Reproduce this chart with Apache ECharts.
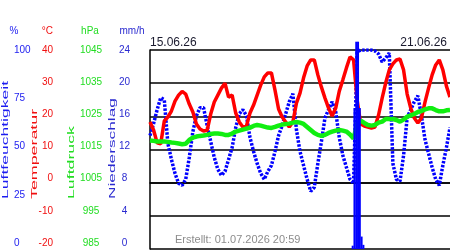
<!DOCTYPE html>
<html>
<head>
<meta charset="utf-8">
<script src="https://cdn.jsdelivr.net/npm/echarts@6/dist/echarts.min.js"></script>
<style>
html, body { margin: 0; padding: 0; background: #fff; }
#chart { width: 450px; height: 250px; }
</style>
</head>
<body>
<div id="chart"></div>
<script>
// Stunden seit 15.06.26 00:00 (alle 2 h)
var hours = [0, 2, 4, 6, 8, 10, 12, 14, 16, 18, 20, 22, 24, 26, 28, 30, 32, 34, 36, 38,
  40, 42, 44, 46, 48, 50, 52, 54, 56, 58, 60, 62, 64, 66, 68, 70, 72, 74, 76, 78,
  80, 82, 84, 86, 88, 90, 92, 94, 96, 98, 100, 102, 104, 106, 108, 110, 112, 114, 116, 118,
  120, 122, 124, 126, 128, 130, 132, 134, 136, 138, 140, 142, 144, 146, 148, 150, 152, 154, 156, 158,
  160, 162, 164, 166, 168];

// Luftfeuchtigkeit %
var humidity = [57, 63, 70, 76, 75, 53, 45, 38, 33, 32, 35, 46, 59, 67, 71, 71, 62, 54, 46, 40,
  37, 39, 45, 51, 61, 68, 70, 67, 56, 49, 43, 38, 35, 39, 42, 49, 57, 62, 68, 74,
  78, 60, 49, 42, 35, 29, 31, 43, 54, 66, 70, 74, 69, 56, 47, 41, 35, 33, 99, 100,
  100, 100, 100, 99.5, 98, 94, 96, 98.5, 43, 35, 34, 47, 66, 70, 74, 77, 67, 55, 48, 41,
  35, 32, 42, 51, 61];

// Temperatur °C
var temperature = [18.3, 15.9, 12.0, 11.7, 18.6, 19.8, 21.6, 24.6, 26.4, 27.5, 26.7, 23.7, 21.3, 17.7, 16.2, 15.6, 15.8, 20.7, 24.3, 26.4,
  28.5, 30.0, 25.8, 26.4, 21.0, 18.3, 16.8, 17.1, 21.0, 23.4, 26.4, 29.4, 31.9, 33.1, 33.1, 27.9, 22.2, 19.8, 18.3, 16.8,
  18.3, 24.0, 27.0, 31.6, 35.2, 37.0, 37.0, 32.5, 28.8, 25.5, 22.5, 20.1, 22.5, 27.6, 31.0, 34.6, 37.9, 37.0, 24.9, 17.7,
  17.1, 16.8, 16.5, 16.8, 20.4, 25.5, 30.1, 34.0, 35.8, 37.0, 37.3, 34.0, 26.7, 22.5, 19.5, 18.0, 19.5, 24.3, 28.5, 32.5,
  35.5, 37.0, 34.0, 29.1, 25.8];

// Luftdruck hPa
var pressure = [1017.7, 1017.6, 1017.4, 1017.4, 1017.4, 1017.3, 1017.1, 1017.0, 1016.8, 1016.6, 1016.7, 1017.9, 1018.6, 1018.9, 1019.1, 1019.2, 1019.4, 1019.7, 1019.8, 1019.8,
  1019.7, 1019.4, 1019.4, 1019.8, 1020.4, 1020.7, 1021.0, 1021.3, 1021.6, 1022.1, 1022.4, 1022.2, 1021.9, 1021.6, 1021.5, 1021.8, 1022.2, 1022.5, 1022.7, 1022.8,
  1023.1, 1023.3, 1023.1, 1022.7, 1021.8, 1020.9, 1020.0, 1019.4, 1019.1, 1019.4, 1020.0, 1020.4, 1020.7, 1020.9, 1020.7, 1020.4, 1019.5, 1018.3, 1022.7, 1023.7,
  1023.0, 1022.4, 1022.2, 1022.4, 1023.1, 1023.4, 1024.2, 1024.2, 1024.2, 1023.9, 1023.4, 1024.0, 1024.9, 1025.3, 1025.7, 1026.3, 1026.6, 1027.1, 1027.4, 1027.4,
  1026.9, 1026.5, 1026.5, 1026.8, 1026.9];

// Niederschlag mm/h (nur Stunden mit Regen)
var rainHours = [113.5, 114.5, 115.5, 116.5, 117.5, 118.5, 119.5];
var rain = [0.4, 17, 25, 25, 17, 1.5, 0.5];

var axisTitles = ['Luftfeuchtigkeit', 'Temperatur', 'Luftdruck', 'Niederschlag'];
var units = ['%', '°C', 'hPa', 'mm/h'];
var dateLabels = ['15.06.26', '21.06.26'];
var createdLabel = 'Erstellt: 01.07.2026 20:59';

var FONT = 'Liberation Sans, Arial, sans-serif';
var BLUE = '#1c1cf0', RED = '#f01010', GREEN = '#22dd22', NAVY = '#2a2ad0';

function pairs(xs, vals) {
  return xs.map(function (x, i) { return [x, vals[i]]; });
}

// Achse nur fuer die Beschriftung links
function labelAxis(min, max, step, color, offset, align) {
  return {
    type: 'value', gridIndex: 1, position: 'left', offset: offset,
    min: min, max: max, interval: step,
    axisLine: { show: false }, axisTick: { show: false }, splitLine: { show: false },
    axisLabel: { color: color, fontSize: 10, fontFamily: FONT, align: align, margin: 0,
      formatter: function (v) { return String(v); } }
  };
}

function title(text, x, color, sx) {
  return {
    type: 'text', x: x, y: 199, rotation: Math.PI / 2, scaleX: sx, scaleY: 1,
    style: { text: text, fill: color, font: '9px ' + FONT, align: 'left', verticalAlign: 'middle' }
  };
}

function unit(text, x, color, align) {
  return {
    type: 'text', x: x, y: 31,
    style: { text: text, fill: color, font: '10px ' + FONT, align: align, verticalAlign: 'middle' }
  };
}

var myChart = echarts.init(document.getElementById('chart'));

myChart.setOption({
  animation: false,
  backgroundColor: '#fff',
  grid: [
    { left: 150, top: 50, right: 0, bottom: 1 },
    { left: 150, top: 50, right: 0, bottom: 7 }
  ],
  xAxis: [
    {
      type: 'value', gridIndex: 0, min: 0, max: 168,
      axisLine: { lineStyle: { color: '#000', width: 1.5 } },
      axisTick: { show: false }, axisLabel: { show: false }, splitLine: { show: false }
    },
    { type: 'value', gridIndex: 1, min: 0, max: 1, show: false }
  ],
  yAxis: [
    // Temperatur: Gitterlinien + linker Rand
    {
      type: 'value', gridIndex: 0, min: -20, max: 40, interval: 10,
      axisLine: { show: true, lineStyle: { color: '#000', width: 1.5 } },
      axisTick: { show: false }, axisLabel: { show: false },
      splitLine: { lineStyle: { color: '#000', width: 1.5 } }
    },
    { type: 'value', gridIndex: 0, min: 0, max: 100, show: false },
    { type: 'value', gridIndex: 0, min: 985, max: 1045, show: false },
    { type: 'value', gridIndex: 0, min: 0, max: 24, show: false },
    labelAxis(0, 100, 25, BLUE, 136, 'left'),
    labelAxis(-20, 40, 10, RED, 97, 'right'),
    labelAxis(985, 1045, 10, GREEN, 59, 'center'),
    labelAxis(0, 24, 4, NAVY, 25.5, 'center')
  ],
  series: [
    {
      name: 'Luftfeuchtigkeit', type: 'line', xAxisIndex: 0, yAxisIndex: 1, z: 2,
      data: pairs(hours, humidity), showSymbol: false,
      lineStyle: { color: '#0000ff', width: 3.5, type: [2.5, 1.5], cap: 'butt' }
    },
    {
      name: 'Temperatur', type: 'line', xAxisIndex: 0, yAxisIndex: 0, z: 3,
      data: pairs(hours, temperature), showSymbol: false,
      lineStyle: { color: '#ff0000', width: 3.5 }
    },
    {
      name: 'Luftdruck', type: 'line', xAxisIndex: 0, yAxisIndex: 2, z: 4,
      data: pairs(hours, pressure), showSymbol: false,
      lineStyle: { color: '#11ee11', width: 4.5 }
    },
    {
      name: 'Niederschlag', type: 'bar', xAxisIndex: 0, yAxisIndex: 3, z: 5,
      data: pairs(rainHours, rain), barWidth: 2, clip: false,
      itemStyle: { color: '#0000ff' }
    }
  ],
  graphic: [
    unit(units[0], 14, BLUE, 'center'),
    unit(units[1], 53, RED, 'right'),
    unit(units[2], 90, GREEN, 'center'),
    unit(units[3], 132, NAVY, 'center'),
    title(axisTitles[0], 6, BLUE, 1.95),
    title(axisTitles[1], 35, RED, 1.98),
    title(axisTitles[2], 71.5, GREEN, 1.97),
    title(axisTitles[3], 113, NAVY, 1.92),
    { type: 'text', x: 150, y: 43,
      style: { text: dateLabels[0], fill: '#1a1a2e', font: '12px ' + FONT, align: 'left', verticalAlign: 'middle' } },
    { type: 'text', x: 447, y: 43,
      style: { text: dateLabels[1], fill: '#1a1a2e', font: '12px ' + FONT, align: 'right', verticalAlign: 'middle' } },
    { type: 'text', x: 175, y: 240,
      style: { text: createdLabel, fill: '#8c8c8c', font: '11px ' + FONT, align: 'left', verticalAlign: 'middle' } }
  ]
});
</script>
</body>
</html>
